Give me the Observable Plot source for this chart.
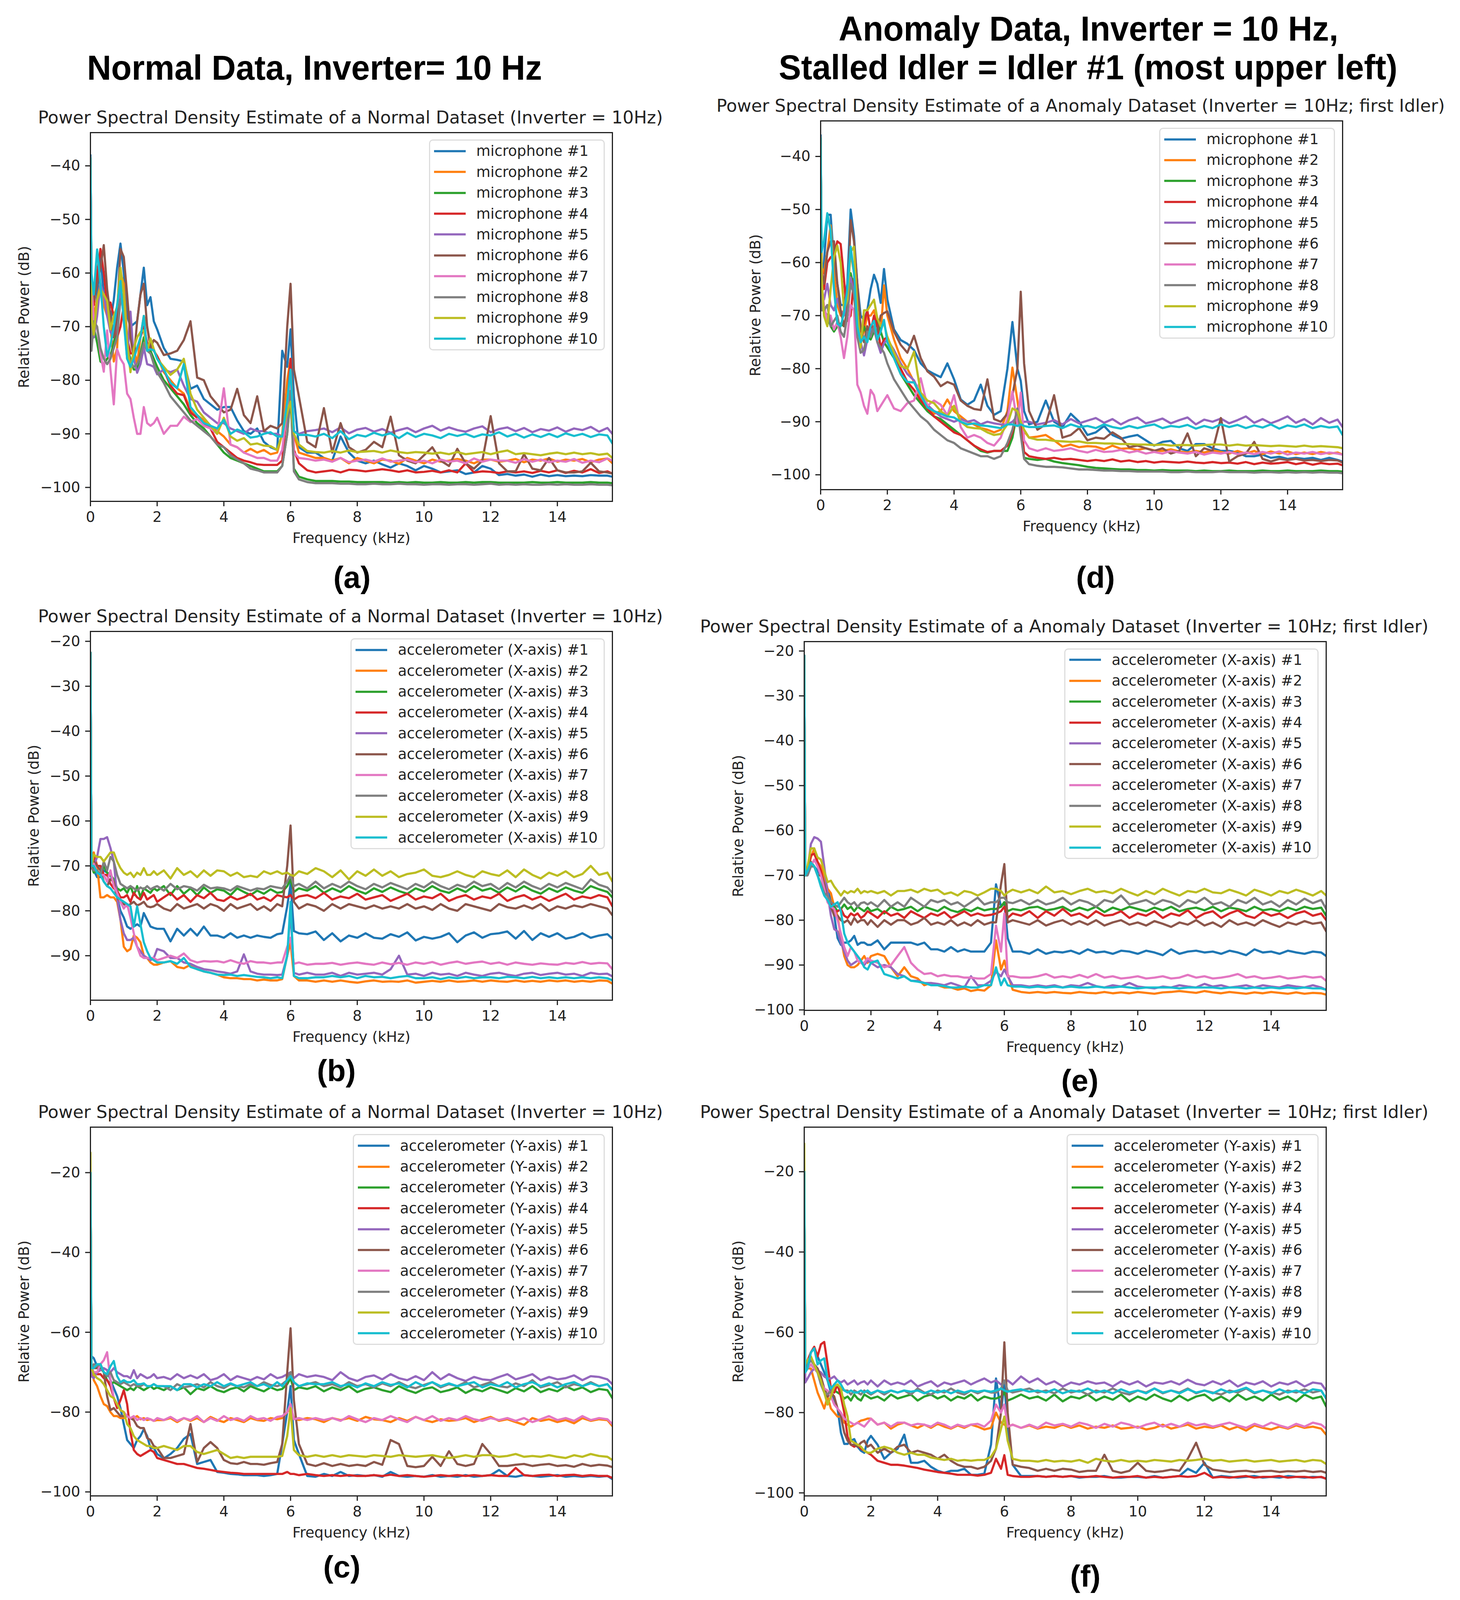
<!DOCTYPE html>
<html><head><meta charset="utf-8">
<script src="https://cdn.jsdelivr.net/npm/d3@7"></script>
<script src="https://cdn.jsdelivr.net/npm/@observablehq/plot@0.6"></script>
<style>
html,body{margin:0;background:#fff;overflow:hidden}
#page{position:relative;width:3737px;overflow:hidden;background:#fff}
.abs{position:absolute;white-space:nowrap;line-height:1}
.head{font-family:"Liberation Sans";font-weight:700;font-size:89px;color:#000;transform:translate(-50%,-50%) scaleX(.963)}
.tag{font-family:"Liberation Sans";font-weight:700;font-size:78px;color:#000;transform:translate(-50%,-50%)}
.ttl{font-family:"DejaVu Sans";font-size:44.7px;color:#222;transform:translate(-50%,-50%)}
.leg{font-family:"DejaVu Sans";font-size:37.2px;color:#222;border:3px solid #ddd;border-radius:10px;background:#fff;padding:0 15px 0 10px;box-sizing:border-box}
.row{display:flex;align-items:center}
.row svg{margin-right:27px;flex:none}
</style></head><body><div id="page"></div>
<script>
const tab10=["#1f77b4","#ff7f0e","#2ca02c","#d62728","#9467bd","#8c564b","#e377c2","#7f7f7f","#bcbd22","#17becf"];
const ids=[1,2,3,4,5,6,7,8,9,10];
// frequency grid, kHz, in four blocks
const freqLow=[0,.03,.1,.2,.3,.4,.5,.6,.7,.8,.9,1,1.1,1.2,1.3,1.4,1.5,1.6,1.7,1.8,1.9,2];
const freqMid=[2.2,2.4,2.6,2.8,3,3.2,3.4,3.6,3.8,4,4.2,4.4,4.6,4.8,5,5.2,5.4,5.6];
const freqPeak=[5.75,5.9,6,6.1,6.25,6.5,6.75];
const freqFloor=[7,7.25,7.5,7.75,8,8.25,8.5,8.75,9,9.25,9.5,9.75,10,10.25,10.5,10.75,11,11.25,11.5,11.75,12,12.25,12.5,12.75,13,13.25,13.5,13.75,14,14.25,14.5,14.75,15,15.25,15.5,15.65];
// power below 0 dB, in tenths of a dB
const micNormal=[
[[380,600,720,640,570,640,665,690,650,590,545,600,680,700,695,690,640,590,660,645,690,705],[740,760,762,765,816,810,835,845,855,850,850,875,895,900,890,915,925,930],[745,775,705,830,925,935,935],[945,950,905,935,950,955,950,957,963,955,960,968,960,965,972,970,968,975,972,960,965,977,975,978,976,980,976,979,977,979,978,979,977,978,978,980]],
[[385,620,680,650,620,660,680,700,765,740,600,620,720,720,740,770,720,680,700,735,745,755],[785,800,815,825,855,865,875,885,895,905,920,925,935,928,935,930,938,935],[900,800,760,900,935,940,945],[945,950,945,955,945,950,955,948,950,956,945,950,955,948,952,950,947,950,955,948,948,952,950,947,953,948,950,946,952,948,950,947,953,948,946,955]],
[[395,650,700,730,765,770,760,755,730,700,640,640,740,760,780,780,750,720,745,745,760,775],[800,815,830,845,865,880,890,905,920,935,945,950,955,960,965,970,970,970],[960,900,830,965,980,985,988],[988,988,989,989,990,990,990,990,991,990,991,990,991,991,990,991,991,990,991,990,990,991,991,991,991,990,991,991,990,991,991,991,990,991,991,992]],
[[385,620,660,600,555,600,660,655,680,720,700,660,720,750,750,740,720,700,730,740,745,755],[780,810,825,828,860,870,880,890,915,925,935,945,950,953,957,958,958,958],[950,850,760,930,955,968,972],[970,968,972,967,968,970,968,966,968,971,968,972,971,969,972,968,972,955,972,970,971,973,970,972,970,973,969,972,968,973,969,972,966,973,970,974]],
[[385,640,720,680,620,640,680,710,720,690,630,680,760,672,760,786,770,739,770,772,775,789],[780,785,780,810,835,840,860,870,880,880,890,895,900,890,895,895,900,900],[905,880,790,895,900,895,893],[890,897,888,899,892,889,896,891,898,893,889,897,890,885,894,888,893,896,890,886,897,891,888,895,889,897,891,894,888,896,890,893,887,896,889,900]],
[[385,610,650,620,590,548,630,680,720,680,555,570,640,720,760,690,640,620,700,739,725,730],[753,750,745,725,690,795,800,830,845,860,855,816,865,880,830,895,885,890],[880,700,620,780,830,915,925],[852,935,880,925,935,930,915,925,868,940,950,955,940,925,950,960,928,955,965,950,867,955,970,970,938,965,968,945,968,972,972,970,954,970,972,974]],
[[385,620,690,700,750,784,707,780,845,742,760,770,825,835,870,900,900,850,880,885,880,870],[900,885,885,868,878,872,885,890,900,815,920,925,935,940,945,945,950,950],[930,850,795,935,945,947,950],[948,952,945,953,950,948,952,946,952,950,948,953,950,955,948,952,950,955,946,952,948,950,950,954,947,952,948,953,950,952,947,954,950,953,946,950]],
[[390,745,690,700,740,760,770,760,740,720,650,640,730,770,775,770,755,730,745,750,770,785],[805,830,845,860,875,885,895,905,920,925,940,948,955,965,968,972,972,972],[960,900,820,970,985,990,992],[992,992,993,993,994,994,993,994,994,993,994,994,995,994,994,995,994,994,995,994,993,995,994,995,994,995,995,994,995,994,995,995,994,995,995,996]],
[[385,680,715,650,630,640,652,705,680,663,590,640,730,785,740,720,710,707,745,722,742,760],[775,790,780,760,825,855,870,885,900,870,905,913,908,920,918,922,923,930],[900,860,840,900,920,932,934],[935,932,935,931,934,933,932,935,931,934,936,934,935,937,935,938,934,938,936,934,938,934,931,938,936,938,940,937,935,938,935,938,936,939,937,945]],
[[385,600,640,556,620,700,755,735,700,660,615,690,760,775,760,740,720,680,745,742,744,760],[780,805,815,770,850,865,880,885,890,874,900,892,897,907,905,900,897,905],[905,840,780,895,902,902,905],[900,908,895,910,902,905,898,903,899,908,898,906,900,903,908,900,904,900,906,901,903,897,905,900,907,901,906,900,906,899,904,900,906,901,903,918]]
];
const accXNormal=[
[[225,690,710,725,725,710,715,720,740,770,800,815,835,840,835,830,835,805,820,835,838,840],[840,868,840,855,840,855,835,855,855,860,850,860,855,860,855,858,860,852],[850,790,740,845,850,852,846],[865,850,868,855,860,850,860,862,852,858,848,866,858,862,858,850,870,855,848,860,852,850,846,862,845,865,850,858,850,862,858,850,860,855,852,862]],
[[225,690,670,700,770,770,765,770,770,780,820,880,890,885,855,860,870,900,905,915,920,920],[915,912,925,928,920,930,935,938,942,948,950,950,952,952,955,953,955,955],[952,900,870,945,955,955,958],[955,958,955,958,960,957,955,958,957,958,955,960,958,956,958,955,958,957,955,958,955,957,958,955,958,956,958,955,957,955,958,956,958,955,956,962]],
[[225,700,715,710,720,700,715,720,730,750,755,750,760,745,765,745,770,750,755,760,750,755],[745,765,745,762,750,765,748,760,752,755,765,750,758,765,755,762,752,760],[758,745,730,758,750,755,745],[760,750,758,745,755,762,750,758,748,756,762,750,757,745,755,760,750,758,745,755,750,760,748,757,745,755,762,750,758,748,755,760,745,752,758,770]],
[[225,690,680,700,700,720,720,740,750,755,770,770,765,780,760,770,775,760,775,770,765,780],[770,760,775,765,780,765,772,760,775,778,768,775,770,762,775,770,778,765],[768,770,765,775,768,765,772],[760,775,768,772,762,775,770,765,778,770,762,775,768,772,762,778,770,765,775,768,772,762,778,770,765,775,768,778,770,762,775,768,772,765,770,790]],
[[225,695,700,680,640,640,636,660,690,770,820,850,865,865,860,880,890,900,905,910,905,885],[890,905,905,915,918,925,930,932,935,937,940,935,897,935,940,942,942,943],[942,900,800,938,942,938,942],[942,938,945,938,942,940,938,942,930,900,942,940,945,938,942,940,945,938,942,945,940,938,942,945,940,938,943,940,938,942,940,945,938,941,940,946]],
[[225,695,690,700,710,735,745,730,735,770,780,785,790,785,780,788,785,780,790,792,790,785],[795,800,785,795,790,785,795,785,790,800,785,795,790,785,798,790,800,785],[790,700,610,780,795,785,790],[800,785,795,785,790,795,788,795,790,795,785,795,790,798,785,795,800,785,790,795,800,785,792,795,788,795,785,800,790,795,788,792,785,790,795,810]],
[[225,700,695,715,720,720,735,710,745,760,780,795,785,815,850,880,900,905,905,905,905,910],[905,900,905,895,910,915,912,913,912,915,910,915,918,912,915,915,917,915],[915,880,860,918,915,920,918],[918,916,920,917,915,918,920,915,919,916,920,915,918,914,920,916,913,918,915,913,918,915,920,915,918,920,917,919,920,916,918,914,918,916,917,930]],
[[225,705,710,710,720,690,710,680,690,720,740,745,750,745,750,755,748,752,745,752,748,745],[755,740,752,745,748,755,742,750,748,750,755,745,750,755,750,752,745,748],[750,735,720,745,740,750,735],[750,740,748,735,745,752,740,748,738,745,752,740,748,735,745,752,742,748,735,745,740,752,738,748,735,745,752,740,748,738,745,752,730,742,748,760]],
[[225,700,675,680,680,690,680,670,670,690,705,715,720,715,725,715,720,705,720,720,712,720],[710,728,705,720,712,725,710,722,710,712,722,715,725,722,725,712,718,712],[718,715,720,722,712,718,705],[712,725,710,730,712,722,708,722,712,725,718,715,708,722,725,720,712,720,725,712,718,722,710,725,708,720,728,715,722,712,725,718,700,720,715,735]],
[[225,700,700,715,720,735,745,750,760,770,775,780,785,790,835,790,830,870,890,905,910,915],[915,912,918,905,925,930,935,938,942,943,942,945,943,945,947,948,950,948],[950,900,780,945,950,950,948],[948,945,948,945,950,945,948,947,950,947,945,950,950,948,952,948,950,947,950,948,948,950,947,948,950,947,950,948,950,948,950,948,950,948,950,955]]
];
const accYNormal=[
[[200,660,665,685,690,690,695,720,740,760,790,830,870,880,890,870,860,843,860,890,890,905],[916,905,890,867,855,930,925,920,950,952,955,956,958,958,958,960,958,955],[880,800,735,870,905,960,962],[955,960,950,960,958,960,958,962,950,960,962,960,962,958,962,960,962,958,962,960,958,945,960,962,958,960,962,960,958,962,960,962,960,962,960,968]],
[[200,680,720,735,760,780,785,800,810,810,815,815,810,815,815,810,818,815,820,818,822,820],[820,815,825,815,822,815,825,812,820,825,815,820,825,815,820,822,815,818],[815,800,790,815,820,815,818],[825,815,820,815,822,812,818,820,825,815,822,812,820,825,818,822,820,815,825,818,812,822,818,825,832,815,822,818,825,820,828,815,822,818,820,835]],
[[200,690,700,700,690,700,720,730,725,730,735,740,745,740,745,735,740,745,740,735,742,738],[745,735,745,738,755,740,745,735,745,750,742,738,748,735,742,748,738,745],[742,730,715,745,738,742,735],[748,738,745,735,750,742,738,745,750,735,745,752,742,738,750,745,738,752,742,748,738,745,752,740,748,735,750,742,748,735,745,738,750,742,745,765]],
[[200,690,700,705,705,715,720,735,765,790,770,745,780,850,895,905,910,905,900,895,900,915],[920,925,930,930,935,940,942,945,948,950,952,953,955,955,955,955,955,955],[955,950,955,955,958,955,958],[960,958,960,958,960,960,958,960,957,960,958,960,962,960,958,960,958,960,958,960,958,960,960,940,958,960,958,957,960,958,957,960,958,960,960,965]],
[[200,710,715,700,695,690,695,700,690,700,705,710,710,715,695,715,705,710,715,712,705,715],[712,718,705,715,708,715,705,720,715,705,720,710,715,720,712,718,705,715],[712,705,700,715,705,712,708],[712,720,700,715,722,712,708,718,705,715,720,710,720,700,718,705,715,722,712,718,720,712,705,718,712,705,720,712,718,715,708,720,710,712,718,730]],
[[200,680,690,690,680,700,760,795,790,800,810,810,810,815,820,835,840,840,865,870,885,890],[915,915,910,905,830,925,890,875,890,920,928,930,925,930,930,932,928,925],[880,700,590,770,880,930,935],[928,935,930,935,932,935,925,932,870,880,935,938,935,912,935,898,930,935,930,880,905,935,935,932,930,935,932,930,935,933,937,930,935,932,934,938]],
[[200,690,700,700,680,670,650,720,765,780,795,800,810,815,810,820,815,820,815,818,822,815],[820,812,822,815,820,810,825,815,822,810,820,815,822,810,818,815,822,812],[810,800,780,818,815,820,815],[820,815,822,810,818,825,815,820,810,818,825,812,820,810,822,815,820,810,818,822,815,820,815,822,815,825,818,810,820,815,822,810,820,815,818,830]],
[[200,690,680,685,680,700,710,700,720,725,730,725,730,735,730,735,735,730,735,735,730,735],[735,745,730,738,735,730,738,725,735,740,730,735,738,730,735,725,732,735],[730,720,700,725,735,730,725],[735,730,738,725,735,730,738,728,735,725,735,740,732,725,738,730,735,725,738,732,725,735,738,728,735,720,738,732,725,738,730,735,725,735,730,745]],
[[150,690,705,715,720,730,745,760,765,780,795,800,830,840,860,870,875,880,885,885,890,890],[885,890,895,885,885,900,905,900,895,905,915,912,915,912,912,912,912,912],[910,860,790,895,908,912,908],[912,908,912,908,910,912,908,910,912,908,910,912,910,908,912,915,912,908,912,908,908,912,910,905,912,910,912,908,912,915,908,912,905,910,912,920]],
[[200,690,690,680,680,700,705,685,672,710,725,720,725,725,720,730,730,728,735,735,730,735],[735,735,745,730,730,738,730,735,725,735,728,735,730,725,735,730,738,725],[735,720,710,725,735,728,730],[730,725,735,730,738,728,735,725,732,728,738,725,735,725,735,728,735,730,725,738,730,735,725,738,730,725,735,728,738,730,725,735,728,735,730,745]]
];
const micAnomaly=[
[[360,620,600,510,510,600,640,680,680,640,500,550,640,700,708,690,650,623,640,676,612,670],[726,746,753,765,790,803,810,816,790,820,858,868,860,830,870,887,880,800],[712,800,823,880,905,900,860],[900,910,885,900,925,920,908,925,932,928,925,935,945,938,936,950,955,942,942,950,955,955,958,965,965,962,968,966,970,968,970,968,972,968,972,975]],
[[365,610,620,580,530,620,680,700,690,660,580,620,700,745,730,700,700,690,720,735,643,700],[745,780,800,825,855,870,885,880,858,880,890,900,905,912,915,920,915,880],[798,860,905,918,930,928,925],[935,947,943,948,946,947,952,945,951,950,953,950,954,955,952,956,958,955,958,954,957,960,955,960,955,961,956,960,956,961,958,961,957,960,958,962]],
[[365,650,690,700,720,730,720,715,720,700,620,650,730,745,720,740,745,730,710,730,750,760],[780,810,830,850,865,880,890,895,905,915,925,935,945,955,958,955,955,955],[930,880,920,968,970,972,970],[975,978,980,982,985,987,988,989,990,990,991,991,992,991,992,992,992,993,992,993,993,992,993,993,993,992,993,993,992,993,993,993,992,993,993,994]],
[[365,610,650,600,590,585,560,565,630,710,700,630,700,730,715,690,730,700,720,760,745,740],[775,800,825,840,860,875,890,900,910,920,925,935,945,952,957,955,955,945],[920,880,900,957,965,968,970],[968,971,970,972,974,972,974,971,975,973,976,974,977,975,976,977,975,977,978,976,978,977,979,976,980,977,979,978,976,980,977,981,978,980,979,982]],
[[365,660,670,640,680,690,668,690,700,680,628,660,720,750,775,745,726,726,750,770,752,745],[765,790,810,822,850,868,880,890,895,900,895,900,897,905,900,903,905,905],[900,890,905,900,900,905,902],[897,905,895,903,898,893,902,895,905,897,892,903,899,894,903,897,892,905,896,900,894,903,897,890,902,895,903,897,890,902,895,905,893,902,896,910]],
[[365,620,640,580,560,560,640,690,720,690,520,560,640,720,750,720,740,720,730,700,695,692],[730,755,770,738,780,805,815,833,825,830,860,870,876,878,820,895,900,885],[850,800,655,790,880,915,905],[850,930,925,912,935,930,932,920,930,948,945,950,955,950,960,955,922,965,950,955,893,975,965,960,938,970,975,970,972,970,973,972,974,972,973,977]],
[[365,640,680,710,700,726,712,740,780,740,680,690,830,845,870,885,840,850,880,870,860,850],[875,880,865,860,818,870,860,868,888,850,910,930,925,930,940,945,930,895],[843,905,845,935,950,955,950],[955,953,950,955,958,953,957,956,953,958,955,960,957,960,955,958,960,957,962,958,960,957,961,958,961,957,960,956,962,958,960,957,961,958,960,962]],
[[365,690,690,680,720,710,700,730,740,700,640,660,740,770,765,730,740,720,750,760,770,790],[820,840,860,875,890,900,915,925,935,940,950,955,960,965,965,970,965,940],[915,875,925,970,980,983,985],[985,986,988,990,990,991,992,992,993,993,994,994,994,994,995,995,994,995,995,995,994,995,995,995,996,995,995,996,995,996,995,996,995,996,996,997]],
[[365,630,700,720,650,590,568,600,690,670,580,570,690,760,690,690,680,670,705,720,715,740],[770,795,800,768,845,860,865,880,890,870,900,910,912,913,920,925,923,905],[875,880,900,915,930,934,934],[936,937,938,937,940,940,941,941,942,942,943,943,944,943,945,944,944,945,944,943,943,945,943,945,944,945,946,945,946,947,945,947,946,947,948,950]],
[[365,580,560,507,540,650,715,720,695,650,570,620,720,750,740,750,720,710,745,730,708,750],[780,810,825,826,850,873,880,885,890,892,900,905,903,907,908,910,912,905],[905,908,905,908,910,910,908],[907,912,905,910,908,912,905,910,913,908,912,908,905,912,908,910,906,913,908,912,905,910,906,912,907,911,905,913,907,910,905,912,908,911,909,925]]
];
const accXAnomaly=[
[[210,700,700,680,680,690,700,720,730,760,790,840,855,850,850,845,835,855,850,850,855,855],[845,865,850,850,850,850,855,850,865,865,870,860,870,865,870,870,870,850],[720,770,760,840,870,870,875],[865,875,870,872,868,875,865,872,870,875,868,870,875,868,872,878,865,875,870,868,872,870,875,868,872,878,865,872,870,875,868,872,875,870,872,880]],
[[210,690,690,660,640,670,680,700,730,740,770,790,840,880,900,905,905,900,890,880,895,880],[875,880,905,925,905,925,930,945,940,945,950,950,955,952,958,955,957,945],[845,910,890,920,955,960,962],[960,962,960,962,963,960,962,963,960,963,961,963,960,962,964,961,960,958,960,962,958,961,963,960,962,964,961,963,960,962,964,961,964,962,963,966]],
[[210,700,690,670,680,700,720,740,750,760,770,780,775,765,775,770,780,770,775,780,772,780],[775,785,770,778,775,770,780,770,775,780,770,778,782,775,780,772,778,775],[775,770,760,780,775,778,772],[770,778,775,770,780,772,778,770,782,772,778,770,775,780,772,778,770,780,775,772,778,770,780,772,775,780,770,778,775,780,772,778,770,775,772,790]],
[[210,700,690,655,652,670,690,720,745,760,780,780,775,790,795,785,790,785,795,790,780,785],[795,780,790,785,795,780,788,795,785,790,782,795,788,780,790,785,790,788],[785,780,770,795,785,790,780],[795,780,790,775,790,785,795,780,790,788,780,795,785,790,780,795,785,790,778,795,785,780,795,785,778,790,795,782,790,785,795,785,780,790,785,800]],
[[210,700,690,630,615,618,625,680,740,790,820,825,850,870,890,900,895,890,895,900,890,895],[905,900,905,920,925,935,935,940,940,942,945,940,945,950,925,945,945,935],[915,925,910,925,945,945,948],[945,948,945,950,945,947,940,947,950,945,948,940,948,950,952,948,950,945,948,950,942,948,945,950,948,945,950,945,948,950,945,948,950,945,950,955]],
[[210,700,685,670,680,700,700,720,755,770,790,790,800,805,800,810,795,805,800,800,810,800],[815,800,810,800,800,810,805,795,810,805,810,800,812,805,812,800,810,805],[805,720,675,805,800,805,810],[800,812,805,800,810,802,810,800,812,805,800,810,805,812,802,808,815,805,810,800,812,805,815,800,810,805,812,800,808,815,805,810,802,808,805,825]],
[[210,695,695,680,665,680,700,730,760,770,775,800,830,860,880,860,870,890,895,895,885,890],[895,905,900,880,860,895,910,920,918,925,922,925,925,928,928,930,930,920],[812,870,785,925,925,928,928],[925,920,928,925,928,922,928,920,928,925,930,928,925,930,928,925,930,928,922,928,925,930,928,925,920,928,925,930,928,925,930,928,925,928,926,935]],
[[210,700,700,680,680,700,720,740,745,760,765,770,760,750,760,765,760,770,762,760,765,760],[770,755,770,760,770,750,760,770,755,760,755,765,760,770,760,750,765,760],[760,750,750,760,762,755,765],[755,765,760,750,765,755,760,770,755,760,745,765,760,755,765,755,760,770,755,762,750,765,760,770,755,762,750,765,758,770,755,765,752,762,755,775]],
[[210,700,680,640,640,660,665,690,715,712,725,735,745,735,740,735,738,730,740,735,738,735],[740,735,745,735,735,732,738,730,735,732,742,738,745,735,738,745,738,730],[730,735,745,738,732,738,732],[740,725,738,735,742,735,730,738,735,740,730,738,745,735,742,730,738,745,735,738,730,738,740,732,738,745,732,738,745,735,740,732,738,745,735,745]],
[[210,700,690,672,680,700,725,745,755,770,765,760,780,830,850,860,870,880,890,905,910,895],[890,920,925,930,925,935,937,940,945,945,947,950,950,948,950,950,945,945],[905,945,930,945,948,948,950],[948,950,948,950,948,950,950,948,950,950,948,950,952,950,950,950,950,952,950,950,950,950,952,950,950,952,950,952,950,952,950,952,950,952,952,955]]
];
const accYAnomaly=[
[[200,680,680,650,640,660,680,700,720,750,770,790,850,878,878,870,866,885,895,900,870,858],[880,915,900,890,855,925,925,920,935,945,950,945,945,940,955,955,952,880],[715,800,725,840,930,958,958],[958,960,958,960,958,962,960,960,958,962,962,960,960,962,958,962,960,958,940,950,925,962,958,960,962,960,958,962,960,962,958,960,962,960,961,964]],
[[200,680,690,690,720,750,770,790,760,790,800,810,810,825,830,835,830,825,820,818,815,815],[830,825,840,830,825,832,838,830,838,828,835,840,832,838,830,835,842,838],[800,825,830,835,830,838,832],[840,835,838,830,838,832,840,835,838,832,840,838,835,842,838,830,840,835,830,840,835,838,832,842,835,845,832,838,842,835,840,832,838,835,840,855]],
[[200,690,690,680,690,700,720,740,760,750,745,750,755,765,760,770,755,765,770,755,760,765],[760,770,755,765,760,755,770,760,755,765,758,770,760,765,755,770,760,765],[765,760,750,770,765,755,765],[760,770,755,772,760,765,755,770,760,768,755,772,760,768,755,765,772,758,770,760,755,770,760,772,755,768,760,770,755,768,760,772,755,765,760,785]],
[[200,680,670,650,636,660,630,624,680,740,750,730,760,800,860,880,885,880,890,895,900,905],[920,925,930,930,932,935,938,942,945,948,950,952,955,955,955,957,955,950],[915,940,906,955,958,960,960],[958,960,958,960,958,960,960,958,960,962,960,960,958,962,960,962,960,958,960,958,950,962,960,962,960,958,962,960,960,958,962,960,960,962,960,965]],
[[200,725,715,700,690,695,700,710,715,715,710,720,725,720,730,725,720,730,725,722,730,720],[735,720,730,725,730,720,735,728,722,735,725,730,725,720,730,722,715,725],[720,730,725,720,730,710,725],[715,730,722,735,725,730,722,728,725,735,722,730,722,735,725,728,722,730,718,728,732,722,730,720,735,725,730,722,735,725,730,722,735,725,728,745]],
[[200,690,680,670,680,690,710,740,760,750,760,790,810,850,870,880,880,885,875,870,885,880],[900,890,900,885,880,900,895,900,905,915,905,920,930,935,935,940,935,920],[890,800,625,800,930,935,938],[945,940,945,940,942,948,945,945,905,945,950,945,925,945,948,946,942,945,915,875,930,942,945,948,946,945,948,946,945,948,946,947,945,948,946,950]],
[[200,700,690,680,690,700,725,740,745,760,780,790,800,815,820,825,830,825,830,835,825,815],[830,825,835,825,825,832,828,830,835,825,830,838,830,835,830,828,835,820],[780,800,780,835,830,838,830],[838,825,832,828,835,825,830,838,828,835,825,830,838,830,825,835,828,835,825,832,828,835,830,825,832,838,828,835,825,832,838,828,835,825,830,840]],
[[200,690,680,670,680,700,730,750,755,745,735,730,740,745,745,755,745,750,755,745,750,755],[745,755,745,750,745,755,740,750,755,745,750,740,750,755,745,752,745,750],[750,740,720,745,750,745,740],[750,745,752,740,750,745,755,745,750,740,750,755,745,750,740,752,745,750,740,752,745,750,755,745,750,740,752,745,750,755,745,750,742,750,745,765]],
[[130,680,670,660,680,700,720,750,780,760,735,730,740,780,810,870,875,880,885,895,900,900],[890,885,890,900,905,900,905,905,912,915,918,915,920,918,920,918,918,910],[890,840,810,870,915,920,920],[922,918,922,920,922,918,925,915,920,922,918,922,920,922,918,920,922,918,920,918,915,920,918,922,920,918,922,920,918,922,920,918,922,918,920,928]],
[[200,700,690,650,640,680,670,665,720,740,730,720,730,745,750,745,750,750,745,750,745,752],[745,750,745,750,745,748,745,752,745,750,745,752,745,750,745,748,745,748],[745,740,745,748,745,742,748],[745,750,742,752,745,748,740,750,745,752,742,750,745,752,740,750,745,752,742,750,745,752,742,750,745,738,750,745,752,742,750,745,752,742,745,765]]
];
const titleNormal="Power Spectral Density Estimate of a Normal Dataset (Inverter = 10Hz)";
const titleAnomaly="Power Spectral Density Estimate of a Anomaly Dataset (Inverter = 10Hz; first Idler)";
const panels=[
{l:231,t:358,d:[-102.6,-33.8],yt:[-100,-90,-80,-70,-60,-50,-40],off:184,title:titleNormal,tag:"(a)",tx:901,ty:1559,name:"microphone",data:micNormal},
{l:231,t:1705,d:[-99.9,-17.8],yt:[-90,-80,-70,-60,-50,-40,-30,-20],off:159,title:titleNormal,tag:"(b)",tx:861,ty:2892,name:"accelerometer (X-axis)",data:accXNormal},
{l:231,t:3044,d:[-101,-8.6],yt:[-100,-80,-60,-40,-20],off:184,title:titleNormal,tag:"(c)",tx:875,ty:4231,name:"accelerometer (Y-axis)",data:accYNormal},
{l:2100,t:326,d:[-102.8,-33.3],yt:[-100,-90,-80,-70,-60,-50,-40],off:181,title:titleAnomaly,tag:"(d)",tx:2804,ty:1559,name:"microphone",data:micAnomaly},
{l:2058,t:1732,d:[-100.1,-17.9],yt:[-100,-90,-80,-70,-60,-50,-40,-30,-20],off:183,title:titleAnomaly,tag:"(e)",tx:2764,ty:2918,name:"accelerometer (X-axis)",data:accXAnomaly},
{l:2058,t:3044,d:[-100.75,-8.9],yt:[-100,-80,-60,-40,-20],off:183,title:titleAnomaly,tag:"(f)",tx:2778,ty:4257,name:"accelerometer (Y-axis)",data:accYAnomaly}
];
// the window may be shorter than the reference: fit the whole layout into it
const k=Math.min(1,window.innerHeight/4321);
const page=document.getElementById("page");page.style.height=(4321*k)+"px";
function add(cls,txt,x,y){const e=document.createElement("div");e.className="abs "+cls;e.textContent=txt;e.style.left=x+"px";e.style.top=y+"px";page.appendChild(e);return e;}
add("head","Normal Data, Inverter= 10 Hz",805,182*k);
add("head","Anomaly Data, Inverter = 10 Hz,",2786,77*k);
add("head","Stalled Idler = Idler #1 (most upper left)",2785,181*k);
const grids=[freqLow,freqMid,freqPeak,freqFloor];
const W=1336,H=Math.round(996*k),ML=200,MT=20,MR=30,MB=130,rowH=56.3*k;
for(const p of panels){
 const labels=ids.map(i=>p.name+" #"+i);
 const rows=[];
 p.data.forEach((blocks,s)=>blocks.forEach((vals,b)=>vals.forEach((v,j)=>{if(j<grids[b].length)rows.push({f:grids[b][j],v:-v/10,s:labels[s]});})));
 const plot=Plot.plot({width:ML+W+MR,height:MT+H+MB,marginLeft:ML,marginRight:MR,marginTop:MT,marginBottom:MB,
  style:{fontFamily:"DejaVu Sans",fontSize:"37.2px",color:"#222",background:"transparent",overflow:"visible"},
  x:{domain:[0,15.65]},y:{domain:p.d},
  color:{domain:labels,range:tab10},
  marks:[
   Plot.axisX({ticks:[0,2,4,6,8,10,12,14],tickFormat:d=>String(d),tickSize:13,tickPadding:13,strokeWidth:3,label:"Frequency (kHz)",labelAnchor:"center",labelArrow:"none",labelOffset:106}),
   Plot.axisY({ticks:p.yt,tickSize:13,tickPadding:13,strokeWidth:3,label:"Relative Power (dB)",labelAnchor:"center",labelArrow:"none",labelOffset:p.off}),
   Plot.line(rows,{x:"f",y:"v",z:"s",stroke:"s",strokeWidth:5.6,clip:true}),
   Plot.frame({stroke:"#222",strokeWidth:3})
  ]});
 plot.style.position="absolute";plot.style.left=(p.l-ML)+"px";plot.style.top=(p.t*k-MT)+"px";page.appendChild(plot);
 add("ttl",p.title,p.l+W/2-2,p.t*k-38);
 add("tag",p.tag,p.tx,p.ty*k);
 const lg=document.createElement("div");lg.className="abs leg";lg.style.right=(3737-(p.l+W-19))+"px";lg.style.top=(p.t*k+18)+"px";
 labels.forEach((t,n)=>{const r=document.createElement("div");r.className="row";r.style.height=rowH+"px";
  r.innerHTML=`<svg width="81" height="8"><line x1="0" x2="81" y1="4" y2="4" stroke="${tab10[n]}" stroke-width="5.6"/></svg><span>${t}</span>`;lg.appendChild(r);});
 page.appendChild(lg);
}
</script></body></html>
